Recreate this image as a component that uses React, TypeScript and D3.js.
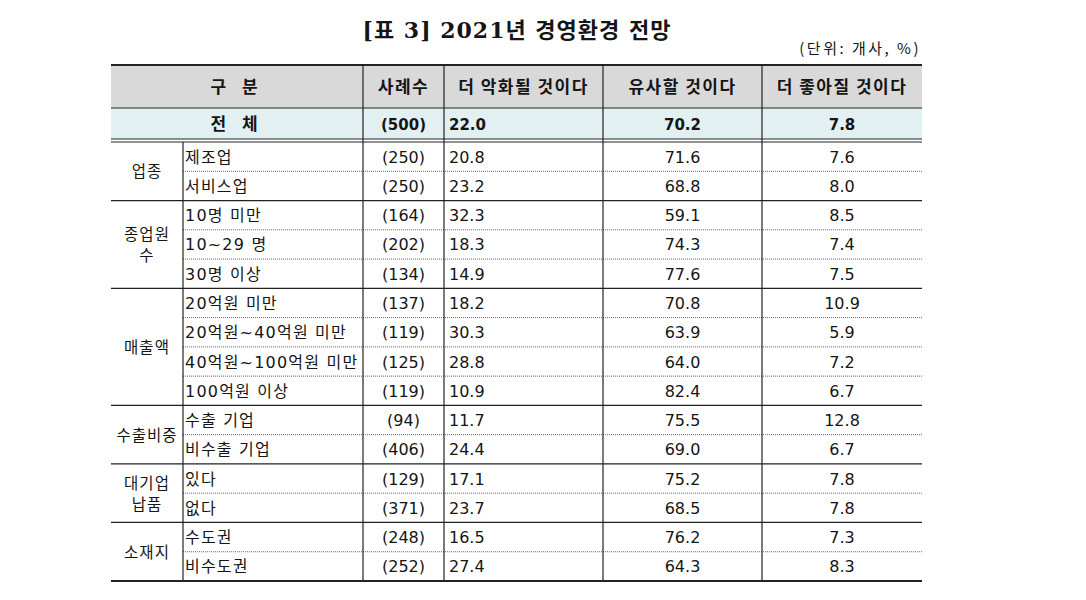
import React from "react";
import * as d3 from "d3";

const title = "[표 3] 2021년 경영환경 전망";
const unitNote = "(단위: 개사, %)";
const headers = ["구 분", "사례수", "더 악화될 것이다", "유사할 것이다", "더 좋아질 것이다"];
const totalLabel = "전 체";
const totalCount = "(500)";
const totalValues = [22.0, 70.2, 7.8];

const groupLabels = [["업종"], ["종업원", "수"], ["매출액"], ["수출비중"], ["대기업", "납품"], ["소재지"]];
const groupSizes = [2, 3, 4, 2, 2, 2];
const subcats = [
  "제조업", "서비스업",
  "10명 미만", "10~29 명", "30명 이상",
  "20억원 미만", "20억원~40억원 미만", "40억원~100억원 미만", "100억원 이상",
  "수출 기업", "비수출 기업",
  "있다", "없다",
  "수도권", "비수도권",
];
const counts = [250, 250, 164, 202, 134, 137, 119, 125, 119, 94, 406, 129, 371, 248, 252];
const worse = [20.8, 23.2, 32.3, 18.3, 14.9, 18.2, 30.3, 28.8, 10.9, 11.7, 24.4, 17.1, 23.7, 16.5, 27.4];
const similar = [71.6, 68.8, 59.1, 74.3, 77.6, 70.8, 63.9, 64.0, 82.4, 75.5, 69.0, 75.2, 68.5, 76.2, 64.3];
const better = [7.6, 8.0, 8.5, 7.4, 7.5, 10.9, 5.9, 7.2, 6.7, 12.8, 6.7, 7.8, 7.8, 7.3, 8.3];

const W = 1086;
const H = 600;
const FONT = "'DejaVu Sans', 'Noto Sans CJK KR', sans-serif";
const SERIF = "'DejaVu Serif', 'Noto Sans CJK KR', serif";

export default function App() {
  const cols = [111, 183, 363, 444, 603, 762, 922];
  const headerTop = 65;
  const headerBottom = 108;
  const totalBottom = 139;
  const bodyTop = 142;
  const bodyBottom = 581;
  const n = subcats.length;
  const y = d3.scaleLinear().domain([0, n]).range([bodyTop, bodyBottom]);
  const rowH = y(1) - y(0);

  const groupStarts: number[] = [];
  let acc = 0;
  groupSizes.forEach((s) => {
    groupStarts.push(acc);
    acc += s;
  });
  const groupEndSet = new Set(groupStarts.slice(1));

  const mid = (a: number, b: number) => (a + b) / 2;
  const fmt = d3.format(".1f");
  const textColor = "#151515";

  return (
    <svg
      width={W}
      height={H}
      style={{ position: "absolute", left: 0, top: 0, background: "#fff" }}
      fontFamily={FONT}
    >
      <rect x={0} y={0} width={W} height={H} fill="#fff" />
      <text x={517} y={38} textAnchor="middle" fontSize={22} fontWeight="bold" letterSpacing={1} fontFamily={SERIF} fill={textColor}>
        {title}
      </text>
      <text x={921} y={54} textAnchor="end" fontSize={15} letterSpacing={2.5} fontFamily="'Noto Sans CJK KR', sans-serif" fill={textColor}>
        {unitNote}
      </text>

      {/* fills */}
      <rect x={cols[0]} y={headerTop} width={cols[6] - cols[0]} height={headerBottom - headerTop} fill="#d9d9d9" />
      <rect x={cols[0]} y={headerBottom} width={cols[6] - cols[0]} height={totalBottom - headerBottom} fill="#e2f0f2" />

      {/* header text */}
      {headers.map((h, i) => {
        const cx = i === 0 ? mid(cols[0], cols[2]) : mid(cols[i + 1], cols[i + 2]);
        return (
          <text
            key={h}
            x={cx}
            y={mid(headerTop, headerBottom) + 6}
            textAnchor="middle"
            fontSize={17}
            fontWeight="bold"
            letterSpacing={i === 0 ? 6 : 1.5}
            fontFamily="'Noto Sans CJK KR', sans-serif"
            fill={textColor}
          >
            {h}
          </text>
        );
      })}

      {/* total row */}
      <text
        x={mid(cols[0], cols[2])}
        y={mid(headerBottom, totalBottom) + 6}
        textAnchor="middle"
        fontSize={17}
        fontWeight="bold"
        letterSpacing={6}
        fontFamily="'Noto Sans CJK KR', sans-serif"
        fill={textColor}
      >
        {totalLabel}
      </text>
      <text x={mid(cols[2], cols[3])} y={mid(headerBottom, totalBottom) + 6} textAnchor="middle" fontSize={15} fontWeight="bold" fill={textColor}>
        {totalCount}
      </text>
      {totalValues.map((v, i) => (
        <text
          key={i}
          x={i === 0 ? cols[3] + 5 : mid(cols[i + 3], cols[i + 4])}
          y={mid(headerBottom, totalBottom) + 6}
          textAnchor={i === 0 ? "start" : "middle"}
          fontSize={15}
          fontWeight="bold"
          fill={textColor}
        >
          {fmt(v)}
        </text>
      ))}

      {/* group labels */}
      {groupLabels.map((lines, gi) => {
        const top = y(groupStarts[gi]);
        const bottom = y(groupStarts[gi] + groupSizes[gi]);
        const c = mid(top, bottom);
        const lh = 21;
        return lines.map((ln, li) => (
          <text
            key={gi + "-" + li}
            x={mid(cols[0], cols[1])}
            y={c + 6 + (li - (lines.length - 1) / 2) * lh}
            textAnchor="middle"
            fontSize={15.5}
            letterSpacing={1}
            fontFamily="'Noto Sans CJK KR', sans-serif"
            fill={textColor}
          >
            {ln}
          </text>
        ));
      })}

      {/* body rows */}
      {subcats.map((s, i) => {
        const ty = y(i) + rowH / 2 + 6;
        return (
          <g key={s}>
            <text x={cols[1] + 2} y={ty} fontSize={16} letterSpacing={1.2} fill={textColor}>{s}</text>
            <text x={mid(cols[2], cols[3])} y={ty} textAnchor="middle" fontSize={16} fill={textColor}>
              {"(" + counts[i] + ")"}
            </text>
            <text x={cols[3] + 5} y={ty} fontSize={16} fill={textColor}>{fmt(worse[i])}</text>
            <text x={mid(cols[4], cols[5])} y={ty} textAnchor="middle" fontSize={16} fill={textColor}>{fmt(similar[i])}</text>
            <text x={mid(cols[5], cols[6])} y={ty} textAnchor="middle" fontSize={16} fill={textColor}>{fmt(better[i])}</text>
          </g>
        );
      })}

      {/* horizontal lines */}
      <line x1={cols[0]} x2={cols[6]} y1={headerTop} y2={headerTop} stroke="#222" strokeWidth={2} />
      <line x1={cols[0]} x2={cols[6]} y1={headerBottom} y2={headerBottom} stroke="#222" strokeWidth={1.2} />
      <line x1={cols[0]} x2={cols[6]} y1={totalBottom} y2={totalBottom} stroke="#222" strokeWidth={1.2} />
      <line x1={cols[0]} x2={cols[6]} y1={bodyTop} y2={bodyTop} stroke="#222" strokeWidth={1.2} />
      {d3.range(1, n).map((i) =>
        groupEndSet.has(i) ? (
          <line key={"h" + i} x1={cols[0]} x2={cols[6]} y1={y(i)} y2={y(i)} stroke="#222" strokeWidth={1.2} />
        ) : (
          <line key={"h" + i} x1={cols[1]} x2={cols[6]} y1={y(i)} y2={y(i)} stroke="#666" strokeWidth={1} strokeDasharray="1,1" />
        )
      )}
      <line x1={cols[0]} x2={cols[6]} y1={bodyBottom} y2={bodyBottom} stroke="#222" strokeWidth={2} />

      {/* vertical lines */}
      <line x1={cols[1]} x2={cols[1]} y1={bodyTop} y2={bodyBottom} stroke="#222" strokeWidth={1.2} />
      {[2, 3, 4, 5].map((c) => (
        <line key={"v" + c} x1={cols[c]} x2={cols[c]} y1={headerTop} y2={bodyBottom} stroke="#222" strokeWidth={1.2} />
      ))}
    </svg>
  );
}
